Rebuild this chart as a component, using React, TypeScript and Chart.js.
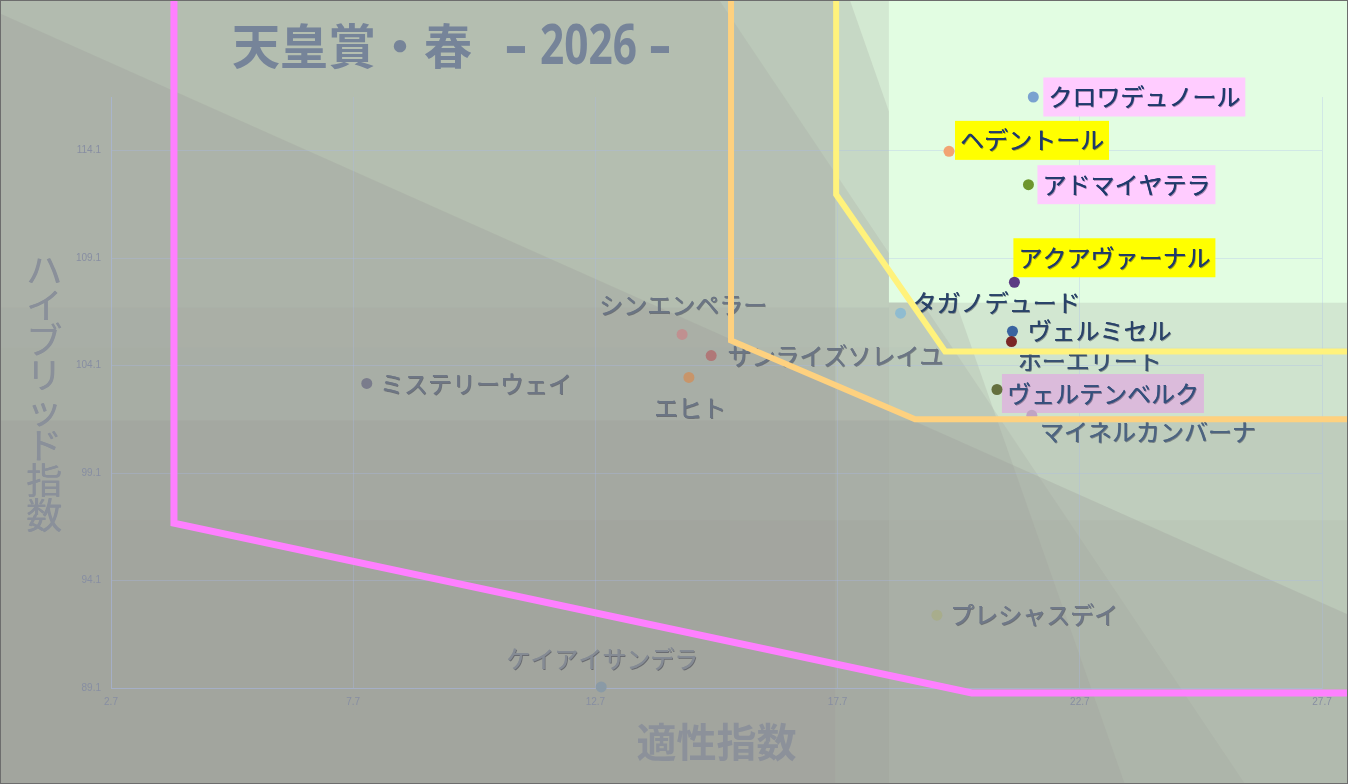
import React, { useEffect, useRef } from 'react';
import { Chart, registerables } from 'chart.js';

Chart.register(...registerables);

// ---------- data ----------
const horseNames = [
  'クロワデュノール', 'ヘデントール', 'アドマイヤテラ', 'アクアヴァーナル', 'タガノデュード',
  'ヴェルミセル', 'ホーエリート', 'ヴェルテンベルク', 'マイネルカンバーナ', 'シンエンペラー',
  'サンライズソレイユ', 'エヒト', 'ミステリーウェイ', 'プレシャスデイ', 'ケイアイサンデラ',
];
const aptitudeIndex = [21.74, 20.0, 21.64, 21.35, 19.0, 21.31, 21.29, 20.99, 21.71, 14.49, 15.09, 14.63, 7.98, 19.75, 12.82];
const hybridIndex = [116.6, 114.07, 112.52, 107.98, 106.54, 105.7, 105.22, 102.99, 101.79, 105.55, 104.57, 103.55, 103.27, 92.49, 89.15];
const pointColors = [
  '#7aa2d0', '#f2a473', '#6e962c', '#5c3a84', '#8fbcd0',
  '#3a64a0', '#7a2626', '#64703e', '#c0a4c4', '#c09090',
  '#b07878', '#c8956a', '#7a7c8c', '#a8ad8c', '#8a9aa6',
];

const xTicks = [2.7, 7.7, 12.7, 17.7, 22.7, 27.7];
const yTicks = [89.1, 94.1, 99.1, 104.1, 109.1, 114.1];

// boundary lines (data units)
const pinkLineX = [4.0, 4.0, 20.47, 29.5];
const pinkLineY = [122, 96.77, 88.87, 88.87];
const orangeLineX = [15.5, 15.5, 19.3, 29.5];
const orangeLineY = [122, 105.27, 101.6, 101.6];
const yellowLineX = [17.67, 17.67, 19.92, 29.5];
const yellowLineY = [122, 112.06, 104.76, 104.76];

// ---------- label layout / style ----------
const labelAlign = ['left', 'left', 'left', 'left', 'left', 'left', 'left', 'left', 'left', 'center', 'left', 'center', 'left', 'left', 'center'];
const labelDx = [15, 11, 14, 4, 12, 15, 6, 10, 8, 1, 16, 1, 13, 13, 1];
const labelDy = [0, -11, 0, -24.5, -10, 0, 19, 4, 17, -30, 0, 30, 0, 0, -28];
const labelBg: (string | null)[] = ['#ffccff', '#ffff00', '#ffccff', '#ffff00', null, null, null, '#dbbbdb', null, null, null, null, null, null, null];
const labelColor = [
  '#1f3a6c', '#1f3a6c', '#1f3a6c', '#1f3a6c', '#2a4369',
  '#2a4369', '#3a5272', '#35507c', '#4d6480', '#6b7584',
  '#6b7584', '#6b7584', '#6e7684', '#6f7888', '#858b94',
];

// ---------- background shading (data units) ----------
const rect = (x0: number, x1: number, y0: number, y1: number) => [[x0, y0], [x1, y0], [x1, y1], [x0, y1]];
const shadeLayers: { pts: number[][]; a: number }[] = [
  { pts: rect(18.76, 40, 60, 107.04), a: 0.22 },
  { pts: rect(-10, 18.76, 60, 106.8), a: 0.15 },
  { pts: rect(-10, 18.76, 60, 130), a: 0.2 },
  { pts: rect(-10, 17.65, 60, 130), a: 0.264 },
  { pts: rect(-10, 15.48, 60, 130), a: 0.056 },
  { pts: rect(-10, 4.02, 60, 130), a: 0.04 },
  { pts: rect(-10, 40, 60, 104.95), a: 0.05 },
  { pts: rect(-10, 40, 60, 101.55), a: 0.31 },
  { pts: rect(-10, 18.76, 60, 96.9), a: 0.2 },
  { pts: rect(18.76, 40, 60, 96.9), a: 0.1 },
  { pts: [[-10, 130], [12.61, 130], [33.44, 60], [-10, 60]], a: 0.185 },
  { pts: [[-10, 130], [16.57, 130], [27.46, 60], [-10, 60]], a: 0.22 },
  { pts: [[-10, 130.95], [40, 80.7], [40, 60], [-10, 60]], a: 0.3 },
];
const mintRect = { x0: 18.76, y0: 107.04 };

const CJK = '"Noto Sans CJK JP", "Noto Sans", sans-serif';

function drawFitted(ctx: CanvasRenderingContext2D, text: string, x: number, y: number, width: number) {
  const w = ctx.measureText(text).width;
  const s = width / w;
  ctx.save();
  ctx.translate(x, y);
  ctx.scale(s, 1);
  ctx.fillText(text, 0, 0);
  ctx.restore();
}

const decorPlugin = {
  id: 'decor',
  beforeDraw(chart: any) {
    const { ctx, width, height } = chart;
    const xs = chart.scales.x;
    const ys = chart.scales.y;
    ctx.save();
    ctx.fillStyle = '#e2fde2';
    ctx.fillRect(0, 0, width, height);
    const mx = xs.getPixelForValue(mintRect.x0);
    const my = ys.getPixelForValue(mintRect.y0);
    ctx.beginPath();
    ctx.rect(0, 0, width, height);
    ctx.rect(mx, 0, width - mx, my);
    ctx.clip('evenodd');
    for (const layer of shadeLayers) {
      ctx.beginPath();
      layer.pts.forEach((p, i) => {
        const px = xs.getPixelForValue(p[0]);
        const py = ys.getPixelForValue(p[1]);
        if (i === 0) ctx.moveTo(px, py);
        else ctx.lineTo(px, py);
      });
      ctx.closePath();
      ctx.fillStyle = `rgba(155,157,152,${layer.a})`;
      ctx.fill();
    }
    ctx.restore();
  },
  beforeDatasetsDraw(chart: any) {
    const { ctx } = chart;
    const meta = chart.getDatasetMeta(0);
    ctx.save();
    ctx.font = `24px ${CJK}`;
    ctx.textBaseline = 'middle';
    horseNames.forEach((name, i) => {
      const el = meta.data[i];
      if (!el) return;
      const w = ctx.measureText(name).width;
      let x = el.x + labelDx[i];
      const y = el.y + labelDy[i];
      if (labelAlign[i] === 'center') x -= w / 2;
      const bg = labelBg[i];
      if (bg) {
        ctx.fillStyle = bg;
        ctx.fillRect(x - 5, y - 19.5, w + 10, 39);
      }
      ctx.save();
      ctx.fillStyle = labelColor[i];
      ctx.textAlign = 'left';
      ctx.shadowColor = 'rgba(0,0,30,0.35)';
      ctx.shadowOffsetX = 1;
      ctx.shadowOffsetY = 1;
      ctx.shadowBlur = 0.5;
      ctx.fillText(name, x, y);
      ctx.shadowColor = 'transparent';
      ctx.fillText(name, x + 0.4, y);
      ctx.restore();
    });
    ctx.restore();
  },
  afterDraw(chart: any) {
    const { ctx, width, height, chartArea } = chart;
    ctx.save();
    // main title
    ctx.fillStyle = '#768499';
    ctx.textBaseline = 'alphabetic';
    ctx.textAlign = 'left';
    ctx.font = `bold 48px ${CJK}`;
    drawFitted(ctx, '天皇賞・春', 232, 64, 240);
    ctx.font = 'bold 55px "Noto Sans", sans-serif';
    drawFitted(ctx, '2026', 540, 64, 97);
    drawFitted(ctx, '-', 505, 64, 22);
    drawFitted(ctx, '-', 649, 64, 22);

    // y axis title (stacked)
    ctx.fillStyle = '#8a909a';
    ctx.font = `36px ${CJK}`;
    ctx.textAlign = 'center';
    ctx.textBaseline = 'middle';
    const yChars = Array.from('ハイブリッド指数');
    const cy = (chartArea.top + chartArea.bottom) / 2;
    const pitch = 35;
    yChars.forEach((c, i) => {
      const yy = cy + (i - (yChars.length - 1) / 2) * pitch;
      ctx.fillText(c, 44, yy);
      ctx.fillText(c, 44.6, yy);
    });
    // x axis title
    ctx.font = `bold 40px ${CJK}`;
    ctx.fillStyle = '#8c919a';
    ctx.fillText('適性指数', (chartArea.left + chartArea.right) / 2, 742);

    // frame
    ctx.strokeStyle = '#6d6d6d';
    ctx.lineWidth = 1;
    ctx.strokeRect(0.5, 0.5, width - 1, height - 1);
    ctx.restore();
  },
};

const gridColor = 'rgba(170,185,240,0.3)';
const tickColor = '#878ea2';

export default function App() {
  const canvasRef = useRef<HTMLCanvasElement | null>(null);

  useEffect(() => {
    document.body.style.margin = '0';
    const canvas = canvasRef.current;
    if (!canvas) return;
    const toPts = (xs: number[], ys: number[]) => xs.map((x, i) => ({ x, y: ys[i] }));
    const lineDs = (xs: number[], ys: number[], color: string, w: number, order: number) => ({
      type: 'line' as const,
      data: toPts(xs, ys),
      borderColor: color,
      backgroundColor: color,
      borderWidth: w,
      pointRadius: 0,
      fill: false,
      tension: 0,
      clip: false as any,
      order,
      borderJoinStyle: 'miter' as const,
      showLine: true,
    });
    const chart = new Chart(canvas, {
      type: 'scatter',
      data: {
        datasets: [
          {
            label: 'horses',
            data: toPts(aptitudeIndex, hybridIndex),
            backgroundColor: pointColors,
            borderWidth: 0,
            pointRadius: 5.5,
            pointHoverRadius: 5.5,
            clip: false as any,
            order: 10,
          } as any,
          lineDs(pinkLineX, pinkLineY, '#ff80ff', 7, 3),
          lineDs(orangeLineX, orangeLineY, '#fed17f', 6, 2),
          lineDs(yellowLineX, yellowLineY, '#fff27c', 6, 1),
        ],
      },
      options: {
        responsive: false,
        animation: false,
        devicePixelRatio: 1,
        events: [],
        layout: { padding: { top: 97, right: 26, left: 0, bottom: 0 } },
        plugins: {
          legend: { display: false },
          tooltip: { enabled: false },
          title: { display: false },
        },
        scales: {
          x: {
            type: 'linear',
            min: 2.7,
            max: 27.7,
            afterBuildTicks: (s: any) => { s.ticks = xTicks.map((v) => ({ value: v })); },
            afterFit: (s: any) => { s.height = 96; },
            grid: { color: gridColor, drawTicks: false },
            border: { color: gridColor },
            ticks: {
              color: tickColor,
              padding: 8,
              autoSkip: false,
              maxRotation: 0,
              font: { size: 10, family: '"Liberation Sans", sans-serif' },
              callback: (v: any) => Number(v).toFixed(1),
            },
          },
          y: {
            type: 'linear',
            min: 89.1,
            max: 116.6,
            afterBuildTicks: (s: any) => { s.ticks = yTicks.map((v) => ({ value: v })); },
            afterFit: (s: any) => { s.width = 111; },
            grid: { color: gridColor, drawTicks: false },
            border: { color: gridColor },
            ticks: {
              color: tickColor,
              padding: 10,
              autoSkip: false,
              font: { size: 10, family: '"Liberation Sans", sans-serif' },
              callback: (v: any) => Number(v).toFixed(1),
            },
          },
        },
      } as any,
      plugins: [decorPlugin],
    });
    return () => chart.destroy();
  }, []);

  return (
    <div style={{ width: 1348, height: 784 }}>
      <canvas ref={canvasRef} width={1348} height={784} style={{ display: 'block', width: 1348, height: 784 }} />
    </div>
  );
}
